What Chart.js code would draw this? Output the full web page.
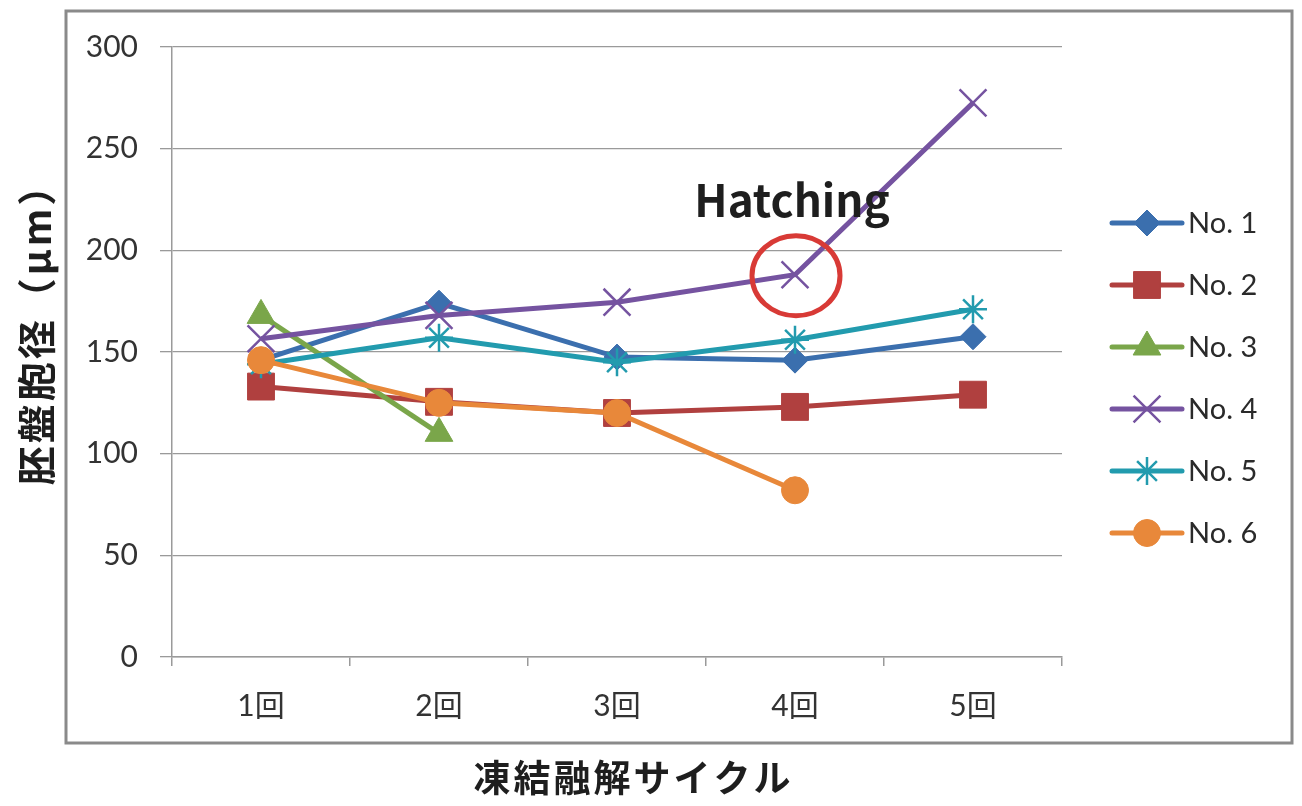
<!DOCTYPE html>
<html>
<head>
<meta charset="utf-8">
<script src="https://cdn.jsdelivr.net/npm/chart.js@4/dist/chart.umd.min.js"></script>
<style>
  html, body { margin: 0; padding: 0; background: #fff; }
  #wrap { position: relative; width: 1302px; height: 806px; }
</style>
</head>
<body>
<div id="wrap"><canvas id="sizeChart"></canvas></div>
<script>
// data
const cycles = ['1回', '2回', '3回', '4回', '5回'];
const seriesNames = ['No. 1', 'No. 2', 'No. 3', 'No. 4', 'No. 5', 'No. 6'];
const no1 = [146, 174, 147.5, 146, 157.5];
const no2 = [133, 125.5, 120, 123, 129];
const no3 = [168, 110, null, null, null];
const no4 = [156.5, 168, 174.5, 188, 272.5];
const no5 = [144, 157, 145, 156, 171];
const no6 = [146, 125, 120, 82, null];
const yTitle = '胚盤胞径（μm）';
const xTitle = '凍結融解サイクル';
const noteText = 'Hatching';
const noteSeries = 3;   // No. 4
const noteIndex = 3;    // 4回

const colors = ['#3b6fae', '#b0403f', '#7aa64a', '#7553a0', '#229bae', '#e8883a'];
const markers = ['rectRot', 'rect', 'triangle', 'crossRot', 'star', 'circle'];
const markerSize = [13, 19, 16, 19, 14, 13.5];
const gridColor = '#9a9a9a';

const allSeries = [no1, no2, no3, no4, no5, no6];

function drawSpaced(ctx, text, x, y, spacing) {
  // centred text with extra letter spacing, char by char
  const chars = Array.from(text);
  const widths = chars.map(c => ctx.measureText(c).width);
  let total = spacing * (chars.length - 1);
  widths.forEach(w => total += w);
  let cx = x - total / 2;
  ctx.textAlign = 'left';
  chars.forEach((c, i) => {
    ctx.fillText(c, cx, y);
    cx += widths[i] + spacing;
  });
}

const framePlugin = {
  id: 'frame',
  beforeDraw(chart) {
    const ctx = chart.ctx;
    ctx.save();
    ctx.fillStyle = '#fff';
    ctx.fillRect(0, 0, chart.width, chart.height);
    ctx.strokeStyle = '#8a8a8a';
    ctx.lineWidth = 3;
    ctx.strokeRect(66, 11, 1226, 732);

    ctx.fillStyle = '#1e1e1e';
    ctx.textBaseline = 'middle';
    ctx.font = 'bold 37px "Noto Sans CJK JP"';
    drawSpaced(ctx, xTitle, 632, 778, 3);

    const area = chart.chartArea;
    ctx.translate(36, (area.top + area.bottom) / 2 - 26);
    ctx.rotate(-Math.PI / 2);
    ctx.font = 'bold 39px "Noto Sans CJK JP"';
    drawSpaced(ctx, yTitle, 0, 0, 3);
    ctx.restore();
  }
};

const notePlugin = {
  id: 'hatchNote',
  afterDatasetsDraw(chart) {
    const pt = chart.getDatasetMeta(noteSeries).data[noteIndex];
    if (!pt) return;
    const ctx = chart.ctx;
    ctx.save();
    ctx.strokeStyle = '#d83a36';
    ctx.lineWidth = 5;
    ctx.beginPath();
    ctx.ellipse(pt.x + 1, pt.y + 1, 44, 40, 0, 0, Math.PI * 2);
    ctx.stroke();
    ctx.fillStyle = '#1e1e1e';
    ctx.font = 'bold 44px "Noto Sans CJK JP"';
    ctx.textAlign = 'center';
    ctx.textBaseline = 'alphabetic';
    ctx.fillText(noteText, pt.x - 3, pt.y - 58);
    ctx.restore();
  }
};

const legendPlugin = {
  id: 'sideLegend',
  afterDraw(chart) {
    const ctx = chart.ctx;
    const x0 = chart.chartArea.right + 50;
    const y0 = 223;
    ctx.save();
    seriesNames.forEach((name, i) => {
      const y = y0 + i * 62;
      ctx.strokeStyle = colors[i];
      ctx.fillStyle = colors[i];
      ctx.lineWidth = 5;
      ctx.lineCap = 'round';
      ctx.beginPath();
      ctx.moveTo(x0, y);
      ctx.lineTo(x0 + 70, y);
      ctx.stroke();
      ctx.lineCap = 'butt';
      ctx.lineWidth = (markers[i] === 'crossRot' || markers[i] === 'star') ? 2.5 : 1;
      Chart.helpers.drawPoint(ctx, {
        pointStyle: markers[i],
        radius: markerSize[i],
        rotation: 0,
        borderWidth: ctx.lineWidth
      }, x0 + 35, y);
      ctx.fillStyle = '#2a2a2a';
      ctx.font = '29px Lato, "Noto Sans CJK JP"';
      ctx.textAlign = 'left';
      ctx.textBaseline = 'middle';
      ctx.fillText(name, x0 + 76, y + 1);
    });
    ctx.restore();
  }
};

const datasets = allSeries.map((vals, i) => ({
  label: seriesNames[i],
  data: vals,
  borderColor: colors[i],
  backgroundColor: colors[i],
  borderWidth: 5,
  pointStyle: markers[i],
  pointRadius: markerSize[i],
  pointHoverRadius: markerSize[i],
  pointBorderColor: colors[i],
  pointBackgroundColor: colors[i],
  pointBorderWidth: (markers[i] === 'crossRot' || markers[i] === 'star') ? 2.5 : 1,
  tension: 0,
  order: allSeries.length - i
}));

const ctx = document.getElementById('sizeChart').getContext('2d');
new Chart(ctx, {
  type: 'line',
  data: { labels: cycles, datasets: datasets },
  options: {
    responsive: true,
    maintainAspectRatio: false,
    animation: false,
    events: [],
    layout: { padding: { left: 0, right: 240, top: 47, bottom: 0 } },
    plugins: {
      legend: { display: false },
      tooltip: { enabled: false }
    },
    scales: {
      x: {
        offset: true,
        afterFit: s => { s.height = 149; },
        grid: {
          offset: true,
          drawOnChartArea: false,
          drawTicks: true,
          tickLength: 9,
          color: gridColor,
          lineWidth: 1.5
        },
        border: { color: gridColor, width: 1.5 },
        ticks: {
          color: '#333',
          padding: 22,
          font: { family: 'Lato, "Noto Sans CJK JP"', size: 30 }
        }
      },
      y: {
        min: 0,
        max: 300,
        afterFit: s => { s.width = 172; },
        grid: {
          color: gridColor,
          lineWidth: 1.3,
          tickLength: 12
        },
        border: { color: gridColor, width: 1.5 },
        ticks: {
          stepSize: 50,
          color: '#333',
          padding: 22,
          font: { family: 'Lato', size: 30 }
        }
      }
    }
  },
  plugins: [framePlugin, notePlugin, legendPlugin]
});
</script>
</body>
</html>
